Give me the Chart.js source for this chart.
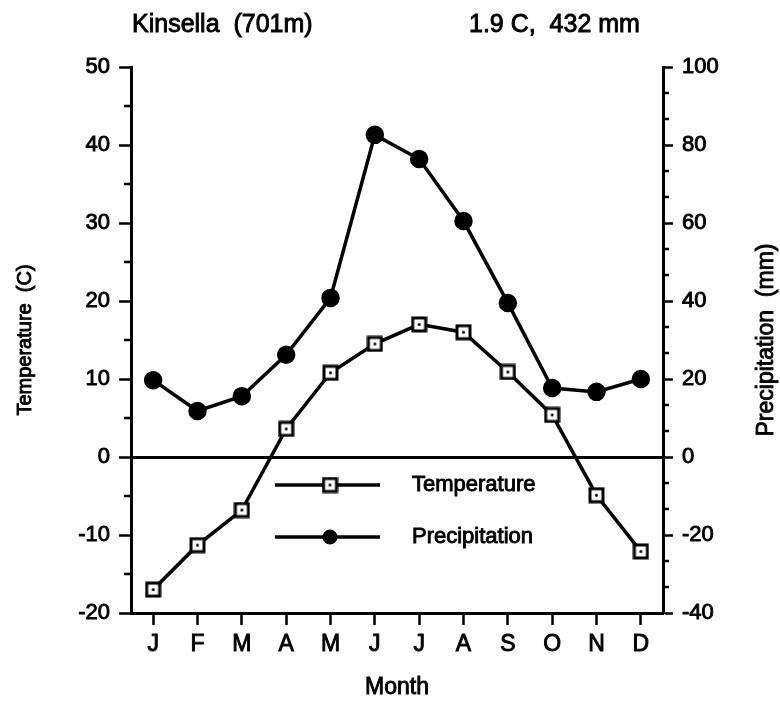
<!DOCTYPE html>
<html>
<head>
<meta charset="utf-8">
<script src="https://cdn.jsdelivr.net/npm/chart.js@4/dist/chart.umd.min.js"></script>
<style>
  body { margin: 0; background: #fff; }
  #wrap { width: 780px; height: 703px; position: relative; }
</style>
</head>
<body>
<div id="wrap"><canvas id="climChart"></canvas></div>
<script>
const months = ['J', 'F', 'M', 'A', 'M', 'J', 'J', 'A', 'S', 'O', 'N', 'D'];
const temperature = [-17.0, -11.3, -6.8, 3.6, 10.8, 14.5, 17.0, 16.0, 10.9, 5.4, -4.9, -12.1];
const precipitation = [19.7, 11.8, 15.6, 26.2, 40.8, 82.6, 76.4, 60.5, 39.5, 17.7, 16.7, 20.0];
const stationName = 'Kinsella  (701m)';
const stationSummary = '1.9 C,  432 mm';

const FONT = '"Liberation Sans", Arial, Helvetica, sans-serif';
const INK = 0.9; // fake the heavier scanned ink a bit

// square marker with a little dot in the middle
const squareMarker = (() => {
    const c = document.createElement('canvas');
    c.width = 17; c.height = 17;
    const g = c.getContext('2d');
    g.fillStyle = '#fff';
    g.fillRect(1.5, 1.5, 14, 14);
    g.strokeStyle = '#000';
    g.lineWidth = 3;
    g.strokeRect(2, 2, 13, 13);
    g.fillStyle = '#000';
    g.beginPath();
    g.arc(8.5, 8.5, 1.5, 0, Math.PI * 2);
    g.fill();
    return c;
})();

const inkText = (ctx, txt, x, y) => {
    ctx.fillText(txt, x, y);
    ctx.lineWidth = INK;
    ctx.strokeText(txt, x, y);
};

// extra text + legend + minor ticks
const decorations = {
    id: 'decorations',
    afterDraw(chart) {
        const { ctx, chartArea, scales } = chart;
        const midY = (chartArea.top + chartArea.bottom) / 2;
        ctx.save();
        ctx.fillStyle = '#000';
        ctx.strokeStyle = '#000';
        ctx.textBaseline = 'middle';
        ctx.textAlign = 'left';
        ctx.font = `25px ${FONT}`;
        inkText(ctx, stationName, 132, 25);
        inkText(ctx, stationSummary, 469, 25);

        // axis titles
        ctx.textAlign = 'center';
        ctx.font = `23px ${FONT}`;
        inkText(ctx, 'Month', (chartArea.left + chartArea.right) / 2, 688);

        ctx.save();
        ctx.font = `20px ${FONT}`;
        ctx.translate(25, midY);
        ctx.rotate(-Math.PI / 2);
        inkText(ctx, 'Temperature  (C)', 0, 0);
        ctx.restore();

        ctx.save();
        ctx.font = `23px ${FONT}`;
        ctx.translate(767, midY);
        ctx.rotate(-Math.PI / 2);
        inkText(ctx, 'Precipitation  (mm)', 0, 0);
        ctx.restore();

        // minor ticks
        ctx.lineWidth = 2.5;
        const yl = scales.y;
        for (let v = yl.min + 5; v < yl.max; v += 10) {
            const py = yl.getPixelForValue(v);
            ctx.beginPath();
            ctx.moveTo(chartArea.left - 7, py);
            ctx.lineTo(chartArea.left, py);
            ctx.stroke();
        }
        const yr = scales.y1;
        for (let i = 0; i <= 21; i++) {
            if (i % 3 === 0) continue;
            const py = yr.getPixelForValue(yr.min + i * 20 / 3);
            ctx.beginPath();
            ctx.moveTo(chartArea.right, py);
            ctx.lineTo(chartArea.right + 6, py);
            ctx.stroke();
        }

        // legend inside the plot
        const items = [
            { label: 'Temperature', y: 485, square: true },
            { label: 'Precipitation', y: 537, square: false }
        ];
        ctx.font = `22px ${FONT}`;
        ctx.textAlign = 'left';
        items.forEach(it => {
            ctx.lineWidth = 3.5;
            ctx.beginPath();
            ctx.moveTo(275, it.y);
            ctx.lineTo(380, it.y);
            ctx.stroke();
            if (it.square) {
                ctx.drawImage(squareMarker, 330 - 8.5, it.y - 8.5);
            } else {
                ctx.beginPath();
                ctx.arc(330, it.y, 7.5, 0, Math.PI * 2);
                ctx.fill();
            }
            inkText(ctx, it.label, 412, it.y);
        });
        ctx.restore();
    }
};

const tickFont = { family: FONT, size: 22 };

const ctx = document.getElementById('climChart').getContext('2d');
new Chart(ctx, {
    type: 'line',
    data: {
        labels: months,
        datasets: [{
            label: 'Temperature',
            data: temperature,
            yAxisID: 'y',
            borderColor: '#000',
            borderWidth: 3.5,
            pointStyle: squareMarker,
            pointRadius: 8,
            tension: 0
        }, {
            label: 'Precipitation',
            data: precipitation,
            yAxisID: 'y1',
            borderColor: '#000',
            backgroundColor: '#000',
            borderWidth: 3.5,
            pointStyle: 'circle',
            pointRadius: 7.5,
            pointBackgroundColor: '#000',
            tension: 0
        }]
    },
    options: {
        responsive: true,
        maintainAspectRatio: false,
        animation: false,
        layout: { padding: { top: 67, left: 0, right: 0, bottom: 0 } },
        plugins: {
            legend: { display: false },
            tooltip: { enabled: false }
        },
        scales: {
            x: {
                offset: true,
                afterFit: (s) => { s.height = 90; },
                border: { display: true, color: '#000', width: 3 },
                grid: { drawOnChartArea: false, drawTicks: true, tickLength: 12, tickWidth: 2.5, color: '#000' },
                ticks: { color: '#000', padding: 6, font: { family: FONT, size: 23 }, maxRotation: 0, textStrokeColor: '#000', textStrokeWidth: INK }
            },
            y: {
                position: 'left',
                min: -20,
                max: 50,
                afterFit: (s) => { s.width = 131; },
                border: { display: true, color: '#000', width: 3 },
                grid: {
                    drawOnChartArea: true,
                    tickLength: 12,
                    tickWidth: 2.5,
                    tickColor: '#000',
                    lineWidth: 3,
                    color: (c) => (c.tick && c.tick.value === 0 ? '#000' : 'rgba(0,0,0,0)')
                },
                ticks: { stepSize: 10, color: '#000', padding: 9, font: tickFont, textStrokeColor: '#000', textStrokeWidth: INK }
            },
            y1: {
                position: 'right',
                min: -40,
                max: 100,
                afterFit: (s) => { s.width = 117; },
                border: { display: true, color: '#000', width: 3 },
                grid: { drawOnChartArea: false, tickLength: 10, tickWidth: 2.5, color: '#000' },
                ticks: { stepSize: 20, color: '#000', padding: 9, font: tickFont, textStrokeColor: '#000', textStrokeWidth: INK }
            }
        }
    },
    plugins: [decorations]
});
</script>
</body>
</html>
